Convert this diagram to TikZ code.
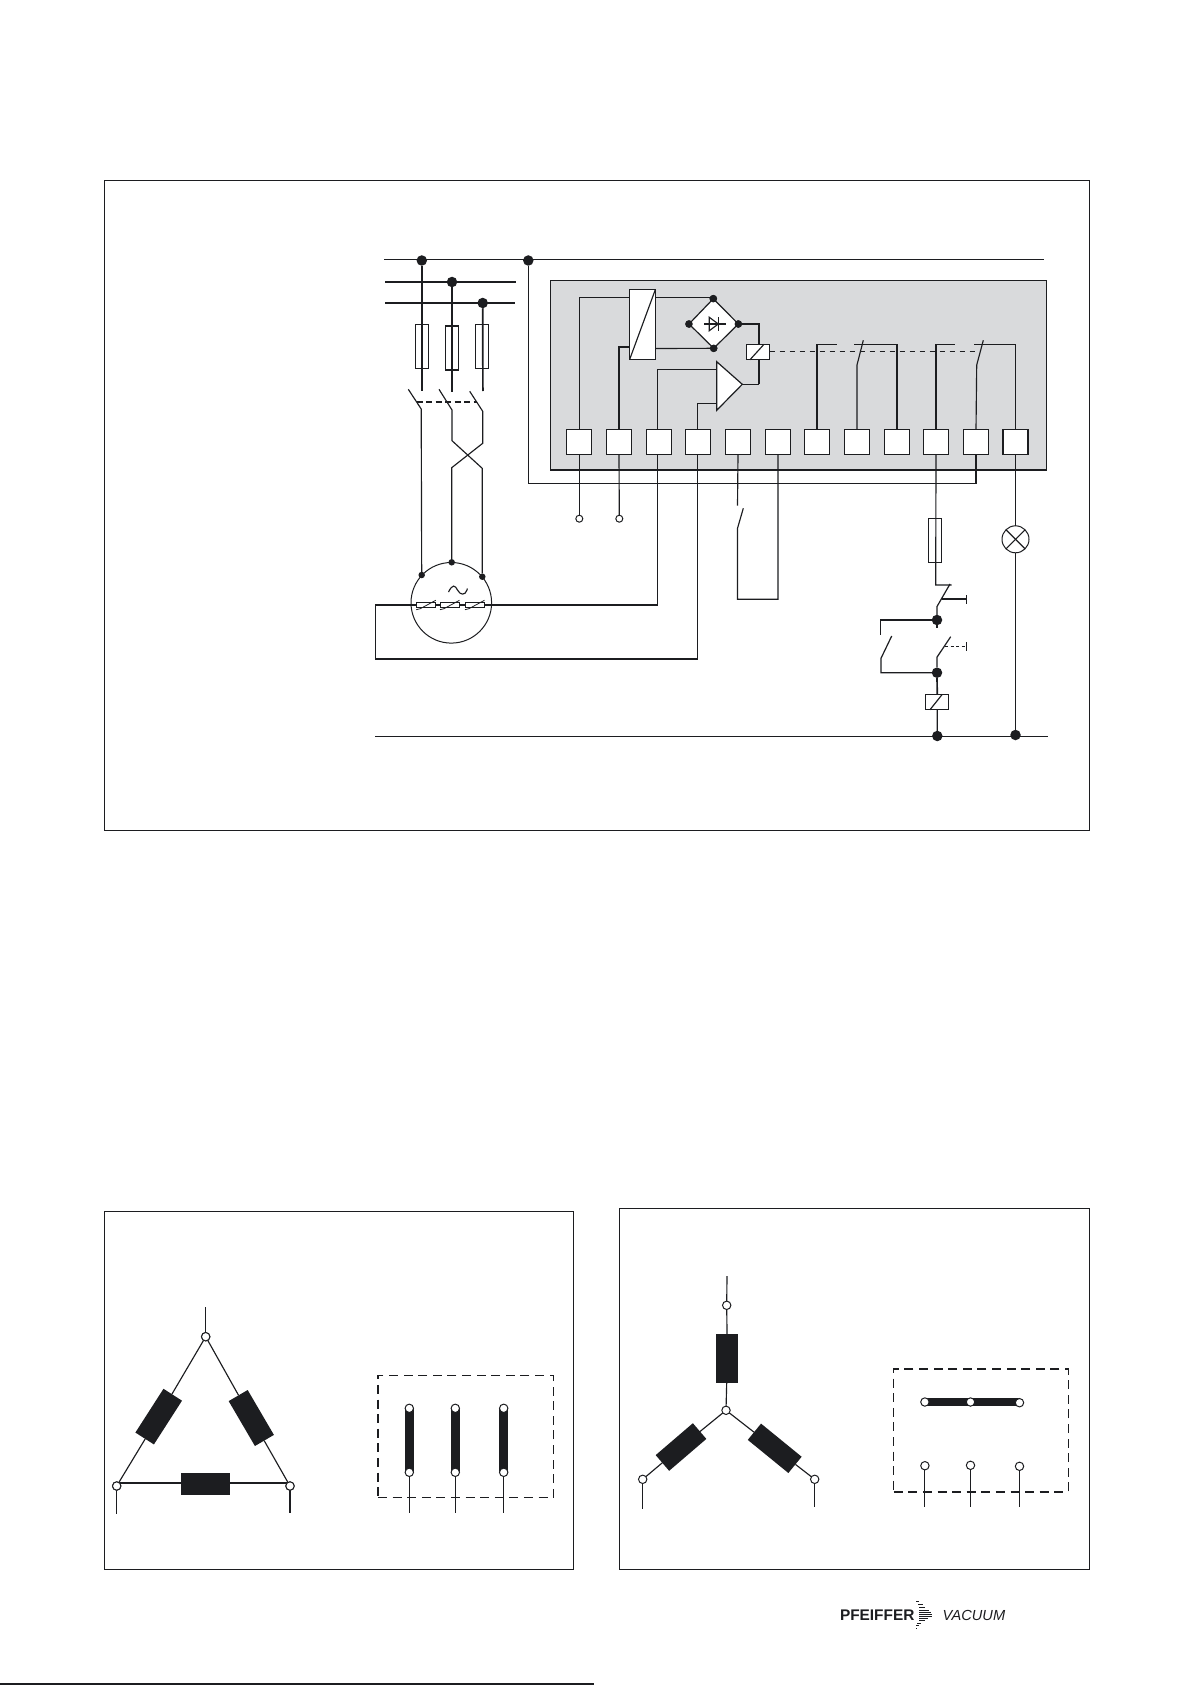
\documentclass[tikz,border=0pt]{standalone}
\usepackage{fontspec}
\setsansfont{Liberation Sans}
\definecolor{ink}{HTML}{1C1D20}
\definecolor{panel}{HTML}{D9DADC}
\tikzset{
	wire/.style={line width=1.15, draw=ink},
	heavy/.style={line width=1.7, draw=ink},
	frame/.style={rectangle, draw=ink, line width=1},
	bigdot/.style={circle, fill=ink, minimum size=10.5},
	smalldot/.style={circle, fill=ink, minimum size=7.5},
	openpin/.style={circle, draw=ink, fill=white, line width=1, minimum size=7},
	pin/.style={circle, draw=ink, fill=white, line width=1, minimum size=8.4},
	terminal/.style={rectangle, draw=ink, fill=white, line width=1.3, minimum width=25, minimum height=25},
	fuse/.style={rectangle, draw=ink, line width=1.2, minimum width=13, minimum height=44},
	coil/.style={rectangle, draw=ink, fill=white, line width=1, minimum width=23, minimum height=15.4},
	winding/.style={rectangle, fill=ink, minimum width=49, minimum height=22},
	ptc/.style={rectangle, draw=ink, line width=.8, minimum width=19.5, minimum height=5.4},
	linkbox/.style={rectangle, draw=ink, line width=1.5, dash pattern=on 9pt off 5.6pt},
}
\begin{document}
\begin{tikzpicture}[x=1pt, y=1pt, yscale=-1, inner sep=0pt, outer sep=0pt]
\useasboundingbox (0,0) rectangle (1191,1685);
\node[frame, minimum width=985.5, minimum height=649] (mainframe) at (597.2,505.5) {};
\node[frame, minimum width=469, minimum height=358] (deltaframe) at (338.7,1390.3) {};
\node[frame, minimum width=470, minimum height=361] (starframe) at (854,1388.5) {};

\node[rectangle, fill=panel, draw=ink, line width=.9, minimum width=496.4, minimum height=189] (panel) at (798.5,375.2) {};
\draw[line width=2, draw=ink] (panel.south west) -- (panel.south east);

\coordinate (busAw) at (384,259.3);
\coordinate (busAe) at (1044,259.3);
\coordinate (busBw) at (385,282);
\coordinate (busBe) at (516,282);
\coordinate (busCw) at (385,303);
\coordinate (busCe) at (515,303);
\coordinate (busDw) at (375,736.3);
\coordinate (busDe) at (1047.7,736.3);
\draw[wire] (busAw) -- (busAe);
\draw[heavy] (busBw) -- (busBe);
\draw[wire, line width=1.3] (busCw) -- (busCe);
\draw[wire] (busDw) -- (busDe);

\node[bigdot] (dotA) at (421.8,260.5) {};
\node[bigdot] (dotB) at (452,282) {};
\node[bigdot] (dotC) at (482.7,303) {};
\node[bigdot] (dotN) at (528.3,260.5) {};

\node[fuse, line width=.9] (fuseA) at (421.8,346.3) {};
\node[fuse, line width=1.5] (fuseB) at (452,347.8) {};
\node[fuse, line width=1.5] (fuseC) at (482.2,346.6) {};
\coordinate (fuseAend) at (421.8,391);
\coordinate (fuseBend) at (452,392);
\coordinate (fuseCend) at (482.9,391);
\draw[heavy] (dotA) -- (fuseAend);
\draw[heavy] (dotB) -- (fuseBend);
\draw[heavy] (dotC) -- (fuseCend);

\node[circle, draw=ink, line width=1, minimum size=80.6] (motor) at (451.3,602.8) {};
\node[smalldot, minimum size=6.5] (motorA) at (421.7,575) {};
\node[smalldot, minimum size=6.5] (motorB) at (451.7,562.3) {};
\node[smalldot, minimum size=6.5] (motorC) at (482.3,576.7) {};

\coordinate (swAtip) at (408.3,389.3);
\coordinate (swAhinge) at (421.2,409);
\coordinate (swBtip) at (439,389.3);
\coordinate (swBhinge) at (452,410);
\coordinate (swBcrossA) at (452,440.7);
\coordinate (swBcrossB) at (482.2,468.3);
\coordinate (swCtip) at (469.7,391.3);
\coordinate (swChinge) at (482.7,411.3);
\coordinate (swCcrossA) at (482.7,443.3);
\coordinate (swCcrossB) at (451.7,467.7);
\draw[wire] (swAtip) -- (swAhinge) -- (motorA);
\draw[wire] (swBtip) -- (swBhinge) -- (swBcrossA) -- (swBcrossB) -- (motorC);
\draw[wire] (swCtip) -- (swChinge) -- (swCcrossA) -- (swCcrossB) -- (motorB);
\coordinate (gangA) at (416.7,402);
\coordinate (gangB) at (477.3,402);
\draw[wire, line width=1.3, dash pattern=on 6pt off 3.5pt] (gangA) -- (gangB);

\foreach \n/\x in {1/579.3,2/619,3/659,4/697.7,5/738,6/778,7/817,8/857,9/897,10/936,11/976,12/1015.5}
	\node[terminal] (T\n) at (\x,441.7) {};

\node[rectangle, draw=ink, fill=white, line width=1.5, minimum width=25.6, minimum height=69.6] (conv) at (642.5,324.5) {};
\draw[wire] (conv.south west) -- (conv.north east);
\coordinate (convA) at (629.7,297.7);
\coordinate (convB) at (629.7,347.3);
\coordinate (convC) at (655.3,297.7);
\coordinate (convD) at (655.3,348.5);

\node[smalldot] (brTop) at (713.3,298.7) {};
\node[smalldot] (brBot) at (713.7,348.3) {};
\node[smalldot] (brL) at (689,324) {};
\node[smalldot] (brR) at (738.3,324) {};
\draw[wire, line width=1.2, fill=white] (brTop.center) -- (brR.center) -- (brBot.center) -- (brL.center) -- cycle;
\node[smalldot] at (brTop) {};
\node[smalldot] at (brBot) {};
\node[smalldot] at (brL) {};
\node[smalldot] at (brR) {};
\coordinate (diodeW) at (704.3,324);
\coordinate (diodeE) at (725.7,324);
\coordinate (diodeA) at (709.3,317.3);
\coordinate (diodeB) at (709.3,330.7);
\coordinate (diodeC) at (718.3,317.3);
\coordinate (diodeD) at (718.3,330.7);
\coordinate (diodeP) at (718.3,324);
\draw[wire] (diodeW) -- (diodeE);
\draw[wire] (diodeA) -- (diodeP) -- (diodeB) -- cycle;
\draw[wire] (diodeC) -- (diodeD);

\draw[wire] (T1.north) |- (convA);
\draw[heavy] (T2.north) |- (convB);
\draw[wire] (convC) -- (convC -| brTop);
\draw[wire] (convD) -- (brBot);

\node[coil] (relay) at (758.2,352) {};
\draw[wire] ([xshift=3.3]relay.south west) -- ([xshift=-5.7]relay.north east);
\coordinate (relayIn) at (759,324);
\coordinate (relayOut) at (759,384.3);
\draw[heavy] (brR) -- (relayIn) -- (relay.north -| relayIn);
\draw[heavy] (relay.south -| relayOut) -- (relayOut);

\coordinate (ampA) at (716.7,361.7);
\coordinate (ampB) at (716.7,410.3);
\coordinate (ampC) at (742.3,384.3);
\draw[wire, line width=1.2, fill=white] (ampA) -- (ampC) -- (ampB) -- cycle;
\draw[wire] (ampC) -- (relayOut);
\coordinate (ampIn) at (716.7,369.3);
\coordinate (ampRef) at (716.7,403.7);
\coordinate (tapC) at (657.5,429);
\draw[wire] (tapC) |- (ampIn);
\draw[wire] (T4.north) |- (ampRef);

\coordinate (nAstub) at (836.7,344.3);
\coordinate (nBhinge) at (857,365);
\coordinate (nBtip) at (863.3,340.3);
\coordinate (nCstub) at (854.3,344.3);
\coordinate (nDstub) at (955,344.3);
\coordinate (nEhinge) at (976.7,365);
\coordinate (nEtip) at (983.3,340.3);
\coordinate (nFstub) at (974,344.3);
\draw[wire] (T7.north) |- (nAstub);
\draw[wire] (T8.north) -- (nBhinge) -- (nBtip);
\draw[wire] (T9.north) |- (nCstub);
\draw[wire] (T10.north) |- (nDstub);
\draw[wire] (T11.north) -- (nEhinge) -- (nEtip);
\draw[wire] (T12.north) |- (nFstub);
\coordinate (linkEnd) at (976.7,351.3);
\draw[line width=.8, draw=ink, dash pattern=on 5pt off 5pt] (relay.east |- linkEnd) -- (linkEnd);

\node[openpin] (pinA) at (579.3,518.7) {};
\node[openpin] (pinB) at (619.3,518.7) {};
\draw[wire] (T1.south) -- (pinA);
\draw[wire] (T2.south) -- (pinB);

\foreach \n/\x in {1/426,2/449.7,3/474.7}
	\node[ptc] (ptc\n) at (\x,605) {};
\foreach \n in {1,2,3}
	\draw[line width=.8, draw=ink] ([shift={(0,2)}]ptc\n.south west) -- ([shift={(4,1)}]ptc\n.south west) -- ([shift={(0,-2)}]ptc\n.north east);
\draw[wire] (ptc1) -- (ptc2);
\draw[wire] (ptc2) -- (ptc3);
\coordinate (tildeW) at (448.5,592);
\coordinate (tildeE) at (467,590);
\draw[wire] (tildeW) .. controls (452.5,584) and (455,585) .. (457.5,590) .. controls (460,595) and (465,596) .. (tildeE) -- +(.4,-1.5);
\coordinate (loopCorner) at (375.7,659);
\coordinate (tapCb) at (657.5,454);
\draw[wire] (tapCb) |- (ptc3.east);
\draw[wire] (T4.south) |- (loopCorner) |- (ptc1.west);

\coordinate (returnCorner) at (528.3,483.7);
\draw[wire] (dotN) -- (returnCorner) -| (T11.south);

\coordinate (extTop) at (737.5,505.7);
\coordinate (extTip) at (743.3,508.3);
\coordinate (extHinge) at (737.5,528.3);
\coordinate (extBot) at (737.5,599.2);
\draw[wire] (T5.south) -- (extTop);
\draw[wire] (extTip) -- (extHinge) -- (extBot) -| (T6.south);

\node[fuse, line width=.9, minimum height=44] (fuseK) at (935,540.3) {};
\node[circle, draw=ink, line width=1, minimum size=27] (lamp) at (1015.5,539.3) {};
\draw[wire] (lamp.north west) -- (lamp.south east);
\draw[wire] (lamp.north east) -- (lamp.south west);
\node[bigdot] (dotJ) at (937,620) {};
\node[bigdot] (dotK) at (937,672.7) {};
\node[coil] (contactor) at (937.2,702) {};
\draw[wire] ([xshift=4.3]contactor.south west) -- ([xshift=-6.4]contactor.north east);
\node[bigdot] (dotL) at (937.3,736) {};
\node[bigdot] (dotM) at (1015.5,735) {};
\draw[wire] (T12.south) -- (lamp.north);
\draw[wire, line width=1.2] (lamp.south) -- (dotM);

\coordinate (stopTop) at (935.7,585);
\coordinate (stopStub) at (951.7,585);
\coordinate (stopTip) at (950,584);
\coordinate (stopHinge) at (936.9,606.7);
\coordinate (stopPush) at (941.7,599);
\coordinate (stopKnob) at (966.7,599);
\coordinate (stopBarA) at (966.7,595);
\coordinate (stopBarB) at (966.7,604);
\draw[wire] (T10.south) -- (stopTop) -- (stopStub);
\draw[wire, line width=1.2] (stopTip) -- (stopHinge) -- (dotJ);
\draw[wire] (stopPush) -- (stopKnob);
\draw[wire] (stopBarA) -- (stopBarB);

\coordinate (holdTop) at (880.3,635);
\coordinate (holdTip) at (891.7,636);
\coordinate (holdHinge) at (881,658.3);
\coordinate (holdBot) at (881,672.7);
\draw[wire, line width=1.2] (dotJ) -| (holdTop);
\draw[wire, line width=1.2] (holdTip) -- (holdHinge) -- (holdBot) -- (dotK);
\coordinate (dotJstub) at (937,627.7);
\draw[wire] (dotJ) -- (dotJstub);

\coordinate (startTip) at (950.7,636.7);
\coordinate (startHinge) at (936.9,657.3);
\coordinate (startPush) at (945,646.3);
\coordinate (startKnob) at (966,646.3);
\coordinate (startBarA) at (966.3,642.3);
\coordinate (startBarB) at (966.3,650.7);
\draw[wire, line width=1.2] (startTip) -- (startHinge) -- (dotK);
\draw[line width=.8, draw=ink, dash pattern=on 3pt off 2.5pt] (startPush) -- (startKnob);
\draw[wire] (startBarA) -- (startBarB);
\draw[heavy] (dotK) -- (contactor.north);
\draw[wire] (contactor.south) -- (dotL);

\node[pin] (dTop) at (205.7,1336.7) {};
\node[pin] (dLeft) at (116.7,1486) {};
\node[pin] (dRight) at (290,1486) {};
\node[winding, rotate=57.3, minimum width=52] (dCoilL) at (158.7,1416.6) {};
\node[winding, rotate=-59.7, minimum width=52] (dCoilR) at (251.3,1418) {};
\node[winding] (dCoilB) at (205.5,1484) {};
\coordinate (dTopEnd) at (205.7,1307.3);
\coordinate (dLeftEnd) at (116.7,1514);
\coordinate (dRightEnd) at (290,1512.7);
\coordinate (dLineL) at (116.7,1483);
\coordinate (dLineR) at (290,1483);
\draw[wire] (dTop) -- (dTopEnd);
\draw[wire] (dLeft) -- (dLeftEnd);
\draw[wire] (dRight) -- (dRightEnd);
\draw[wire] (dTop) -- (dCoilL) -- (dLeft);
\draw[wire] (dTop) -- (dCoilR) -- (dRight);
\draw[wire] (dLineL) -- (dCoilB.west |- dLineL);
\draw[wire] (dCoilB.east |- dLineR) -- (dLineR);
\node[pin] at (dTop) {};
\node[pin] at (dLeft) {};
\node[pin] at (dRight) {};

\node[linkbox, minimum width=175.3, minimum height=122] (dBox) at (465.6,1436.7) {};
\foreach \n/\x in {1/409.3,2/455.3,3/503.7} {
	\node[rectangle, fill=ink, minimum width=8.6, minimum height=64] (dBar\n) at (\x,1440.3) {};
	\node[pin] (dUp\n) at (\x,1408.3) {};
	\node[pin] (dDown\n) at (\x,1472.3) {};
	\coordinate (dEnd\n) at (\x,1512.7);
	\draw[wire] (dDown\n) -- (dEnd\n);
}

\node[pin] (sTop) at (726.7,1305.3) {};
\node[pin] (sMid) at (726,1410.3) {};
\node[pin] (sLeft) at (642.7,1479.3) {};
\node[pin] (sRight) at (814.7,1479.3) {};
\node[winding, rotate=90] (sCoilT) at (727.3,1358.3) {};
\node[winding, rotate=40.6, minimum height=20.7] (sCoilL) at (681,1447) {};
\node[winding, rotate=-39.2, minimum width=52.4, minimum height=21] (sCoilR) at (774.7,1448.3) {};
\coordinate (sTopEnd) at (727,1276);
\coordinate (sLeftEnd) at (642.7,1509);
\coordinate (sRightEnd) at (814.7,1506.7);
\draw[wire] (sTop) -- (sTopEnd);
\draw[wire] (sTop) -- (sCoilT) -- (sMid);
\draw[wire] (sMid) -- (sCoilL) -- (sLeft);
\draw[wire] (sMid) -- (sCoilR) -- (sRight);
\draw[wire] (sLeft) -- (sLeftEnd);
\draw[wire] (sRight) -- (sRightEnd);

\node[linkbox, minimum width=174.6, minimum height=123] (sBox) at (981,1430.5) {};
\node[rectangle, fill=ink, minimum width=95, minimum height=8] (sBar) at (972.2,1402.2) {};
\foreach \n/\x/\ya/\yb in {1/924.9/1402/1465.7,2/970.5/1402/1465.3,3/1019.5/1402.7/1466.3} {
	\node[pin] (sUp\n) at (\x,\ya) {};
	\node[pin] (sDown\n) at (\x,\yb) {};
	\coordinate (sEnd\n) at (\x,1506.7);
	\draw[wire] (sDown\n) -- (sEnd\n);
}

\node[anchor=west, font=\sffamily\bfseries\fontsize{15.4}{15}\selectfont, text=ink] (maker) at (840,1615) {PFEIFFER};
\node[anchor=west, font=\sffamily\itshape\fontsize{14.6}{15}\selectfont, text=ink] (makerB) at (942.7,1615) {VACUUM};
\foreach \y/\xa/\xb in {1601/916/919,1604/918/923,1607/919/925,1610/919/929,1612/919/931,1614/919/932,1616/919/932,1618/919/928,1620/919/925,1623/917/921,1625/916/919,1628/916/917}
	\draw[line width=1, draw=ink] (\xa,\y) -- (\xb,\y);

\coordinate (pageRuleW) at (0,1684);
\coordinate (pageRuleE) at (594,1684);
\draw[line width=2, draw=ink] (pageRuleW) -- (pageRuleE);
\end{tikzpicture}
\end{document}
